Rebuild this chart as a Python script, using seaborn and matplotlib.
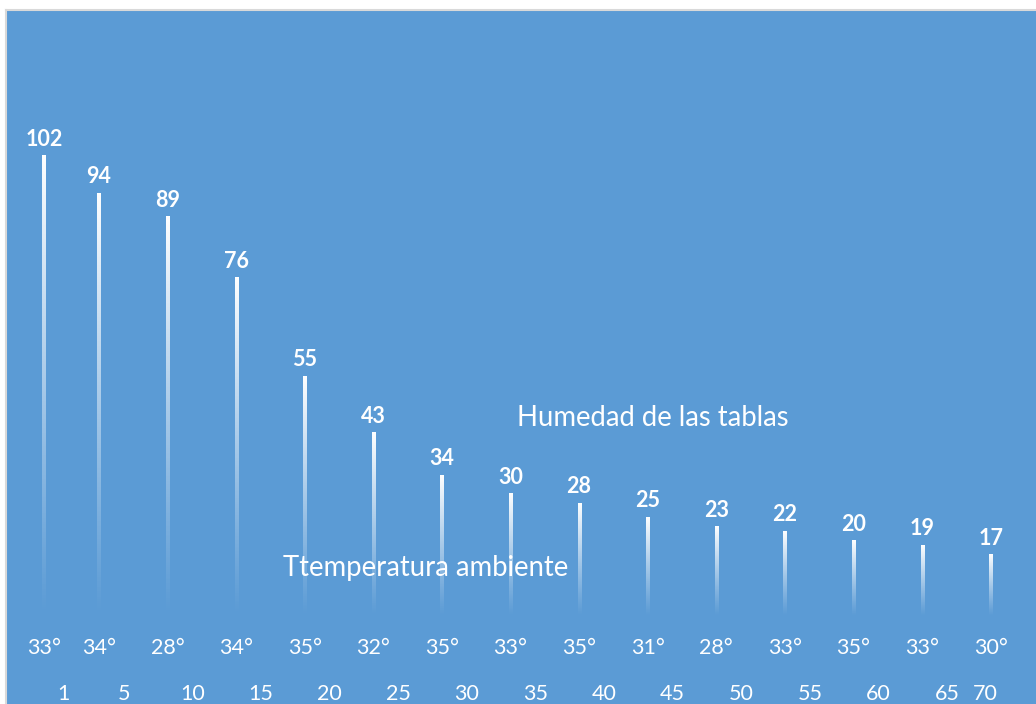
import numpy as np
import pandas as pd
import matplotlib
matplotlib.use("Agg")
import matplotlib.pyplot as plt
import seaborn as sns

# Sampling day, board moisture and ambient temperature
dias = [1, 5, 10, 15, 20, 25, 30, 35, 40, 45, 50, 55, 60, 65, 70]
humedad = [102, 94, 89, 76, 55, 43, 34, 30, 28, 25, 23, 22, 20, 19, 17]
temperatura = ["33°", "34°", "28°", "34°", "35°", "32°", "35°", "33°",
               "35°", "31°", "28°", "33°", "35°", "33°", "30°"]
dia_labels = [str(d) for d in dias]

titulo_humedad = "Humedad de las tablas"
titulo_temp = "Ttemperatura ambiente"

BG = "#5B9BD5"
AXIS_FLOOR = 4  # value axis starts here; stripes fade out to it

sns.set_theme(style="white")
plt.rcParams["font.family"] = ["Lato", "DejaVu Sans"]

df = pd.DataFrame({"dia": dias, "humedad": humedad})

fig = plt.figure(figsize=(10.36, 7.04), dpi=100, facecolor="white")
ax = fig.add_axes([6 / 1036, 0, 1030 / 1036, 694 / 704])
ax.set_facecolor(BG)

sns.barplot(data=df, x="dia", y="humedad", native_scale=True,
            color="white", width=0.06, ax=ax, errorbar=None)

ax.set_xlim(-1.77, 73.3)
ax.set_ylim(-14.7, 133.1)

# Replace each bar with a white stripe that fades out toward the axis floor
bar_w = 0.22
n = 256
for patch, d, v in zip(ax.patches, dias, humedad):
    patch.set_visible(False)
    frac = np.linspace(1, 0, n)  # top -> bottom
    rgba = np.ones((n, 1, 4))
    rgba[:, 0, 3] = np.clip(frac, 0, 1) ** 1.1
    ax.imshow(rgba, extent=[d - bar_w / 2, d + bar_w / 2, AXIS_FLOOR, v],
              aspect="auto", interpolation="bilinear", zorder=3)
    ax.annotate(str(v), xy=(d, v), xytext=(0, 7.5), textcoords="offset points",
                ha="center", va="baseline", color="white",
                fontsize=15.5, fontweight="bold", zorder=4)

# Ambient temperature row and day row
for d, t, lab in zip(dias, temperatura, dia_labels):
    ax.text(d, -2.8, t, ha="center", va="center", color="white",
            fontsize=15.5, zorder=4)
    if d == dias[-1]:
        shift = -4
    elif d == dias[0]:
        shift = 14
    else:
        shift = 18
    ax.annotate(lab, xy=(d, -12.6), xytext=(shift, 0),
                textcoords="offset points", ha="center", va="center",
                color="white", fontsize=15.5, zorder=4)

ax.text(35.47, 46.2, titulo_humedad, ha="left", va="center",
        color="white", fontsize=19.8, zorder=4)
ax.text(18.4, 14.3, titulo_temp, ha="left", va="center",
        color="white", fontsize=19.8, zorder=4)

ax.set_xlabel("")
ax.set_ylabel("")
ax.set_xticks([])
ax.set_yticks([])
for side in ["bottom", "right"]:
    ax.spines[side].set_visible(False)
for side in ["top", "left"]:
    ax.spines[side].set_color("#D9D9D9")
    ax.spines[side].set_linewidth(1.5)

fig.savefig("out.png", dpi=100, facecolor="white")
